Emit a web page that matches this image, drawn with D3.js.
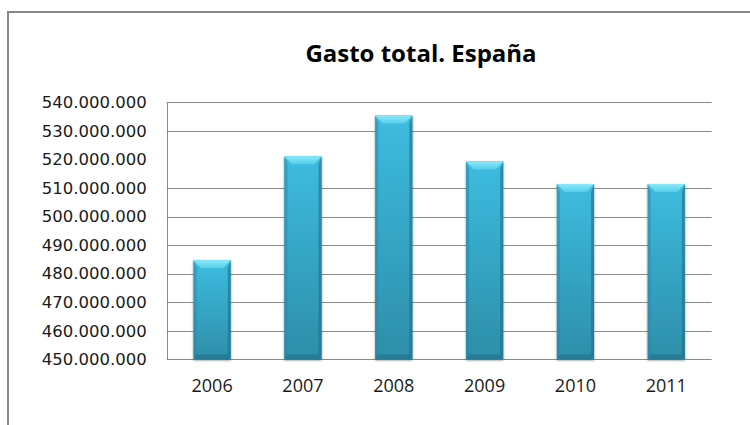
<!DOCTYPE html>
<html><head><meta charset="utf-8">
<script src="https://cdn.jsdelivr.net/npm/d3@7"></script>
<style>html,body{margin:0;padding:0;background:#fff;}svg{display:block;}</style>
</head><body>
<svg id="chart" width="750" height="425"></svg>
<script>
const title = "Gasto total. España";
const years = ["2006","2007","2008","2009","2010","2011"];
const values = [484700000, 521100000, 535400000, 519300000, 511400000, 511400000];
const yTicks = [450000000,460000000,470000000,480000000,490000000,500000000,510000000,520000000,530000000,540000000];
const gridValues = [460000000,470000000,480000000,490000000,500000000,510000000,530000000,540000000];

const svg = d3.select("#chart");
const plot = {left: 166.7, right: 711.7, top: 102.3, bottom: 359.3};

// outer frame
svg.append("rect").attr("x", 8).attr("y", 12).attr("width", 760).attr("height", 430)
  .attr("fill", "#fff").attr("stroke", "#878787").attr("stroke-width", 2);

const x = d3.scaleBand().domain(years).range([plot.left, plot.right]).paddingInner(0.59).paddingOuter(0.295);
const y = d3.scaleLinear().domain([450000000, 540000000]).range([plot.bottom, plot.top]);

const defs = svg.append("defs");
const g1 = defs.append("linearGradient").attr("id","bodyV").attr("x1",0).attr("y1",0).attr("x2",0).attr("y2",1);
g1.append("stop").attr("offset","0%").attr("stop-color","#3dbce0");
g1.append("stop").attr("offset","100%").attr("stop-color","#2d8ea9");
const g2 = defs.append("linearGradient").attr("id","topBev").attr("x1",0).attr("y1",0).attr("x2",0).attr("y2",1);
g2.append("stop").attr("offset","0%").attr("stop-color","#8aeafa");
g2.append("stop").attr("offset","100%").attr("stop-color","#55cdec");
const f = defs.append("filter").attr("id","sh").attr("x","-20%").attr("y","-10%").attr("width","140%").attr("height","120%");
f.append("feGaussianBlur").attr("in","SourceAlpha").attr("stdDeviation",1.2).attr("result","b");
f.append("feOffset").attr("in","b").attr("dx",0).attr("dy",0.5).attr("result","o");
f.append("feComponentTransfer").attr("in","o").attr("result","o2").append("feFuncA").attr("type","linear").attr("slope",0.45);
const fm = f.append("feMerge"); fm.append("feMergeNode").attr("in","o2"); fm.append("feMergeNode").attr("in","SourceGraphic");

// gridlines
svg.append("g").selectAll("line").data(gridValues).join("line")
  .attr("x1", plot.left).attr("x2", plot.right)
  .attr("y1", d => Math.round(y(d)) + 0.5).attr("y2", d => Math.round(y(d)) + 0.5)
  .attr("stroke", "#8a8a8a").attr("stroke-width", 1);
// axes lines
svg.append("line").attr("x1", plot.left).attr("x2", plot.right)
  .attr("y1", Math.round(plot.bottom)+0.5).attr("y2", Math.round(plot.bottom)+0.5).attr("stroke","#8a8a8a");
svg.append("line").attr("x1", Math.round(plot.left)+0.5).attr("x2", Math.round(plot.left)+0.5)
  .attr("y1", plot.top).attr("y2", plot.bottom).attr("stroke","#8a8a8a");

// y axis labels
const yAxis = d3.axisLeft(y).tickValues(yTicks).tickSize(0).tickPadding(20)
  .tickFormat(d => d3.format(",")(d).replace(/,/g, "."));
const ya = svg.append("g").attr("transform", `translate(${plot.left},0)`).call(yAxis);
ya.select(".domain").remove();
ya.selectAll("text").attr("font-family", "DejaVu Sans").attr("font-size", "16.5px").attr("fill", "#1a1a1a");

// x axis labels
const xAxis = d3.axisBottom(x).tickSize(0).tickPadding(20);
const xa = svg.append("g").attr("transform", `translate(0,${plot.bottom})`).call(xAxis);
xa.select(".domain").remove();
xa.selectAll("text").attr("font-family", "Open Sans").attr("font-size", "18px").attr("fill", "#1a1a1a");

// bars
const bars = svg.append("g").selectAll("g").data(years.map((yr,i)=>({yr, v: values[i]}))).join("g")
  .attr("filter","url(#sh)");
bars.each(function(d){
  const g = d3.select(this);
  const bx = x(d.yr), bw = x.bandwidth(), by = y(d.v), bb = y.range()[0], bh = bb - by;
  const bev = 8, side = 3;
  g.append("rect").attr("x", bx).attr("y", by).attr("width", bw).attr("height", bh).attr("fill","url(#bodyV)");
  g.append("polygon").attr("points", [[bx,by],[bx+side,by+bev],[bx+side,bb-bev*0.6],[bx,bb]].join(" "))
    .attr("fill","#2b86a2").attr("opacity",0.55);
  g.append("polygon").attr("points", [[bx+bw,by],[bx+bw-side,by+bev],[bx+bw-side,bb-bev*0.6],[bx+bw,bb]].join(" "))
    .attr("fill","#1f6e86").attr("opacity",0.6);
  g.append("polygon").attr("points", [[bx,bb],[bx+side,bb-bev*0.6],[bx+bw-side,bb-bev*0.6],[bx+bw,bb]].join(" "))
    .attr("fill","#256f87").attr("opacity",0.6);
  g.append("polygon").attr("points", [[bx,by],[bx+bw,by],[bx+bw-side*2.5,by+bev],[bx+side*2.5,by+bev]].join(" "))
    .attr("fill","url(#topBev)");
});

// title
svg.append("text").attr("x", 421).attr("y", 62).attr("text-anchor","middle")
  .attr("font-family","Open Sans").attr("font-weight","bold").attr("font-size","24px").attr("fill","#000")
  .text(title);
</script>
</body></html>
